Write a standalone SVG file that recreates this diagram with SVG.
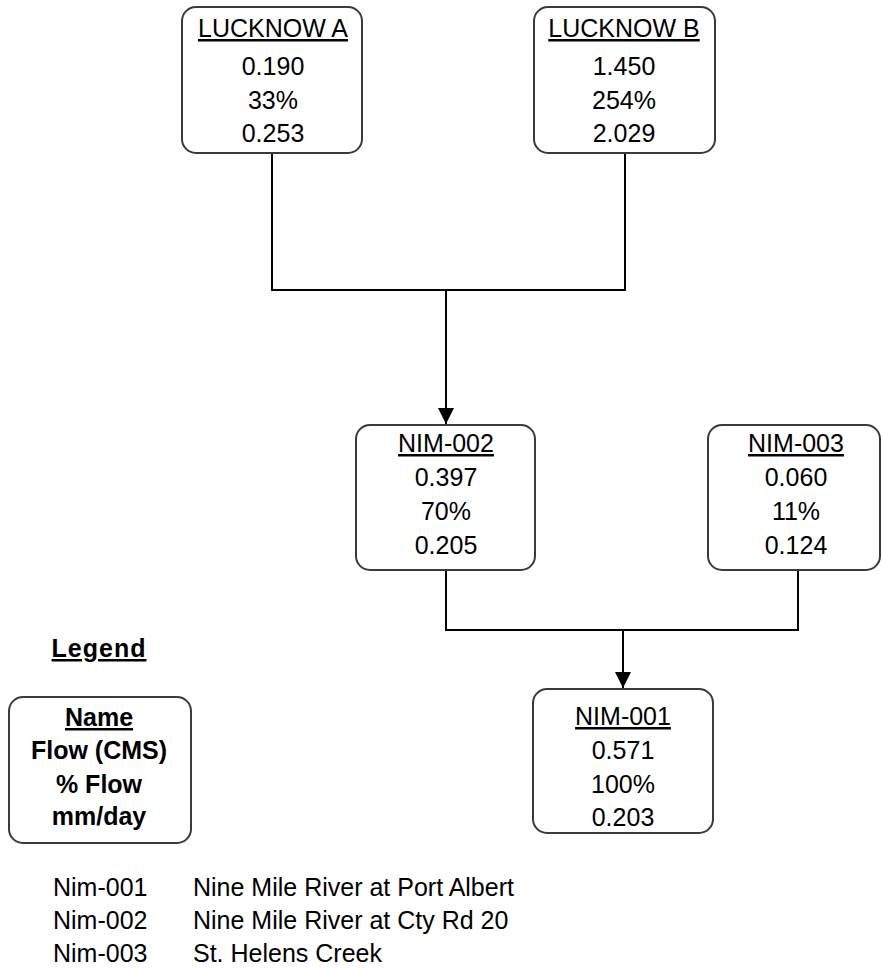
<svg xmlns="http://www.w3.org/2000/svg" width="882" height="968" viewBox="0 0 882 968">
<style>
.box{fill:#fff;stroke:#3a3a3a;stroke-width:2}
.t{font-family:"Liberation Sans",Arial,sans-serif;font-size:25px;fill:#000;text-anchor:middle}
.ttl{text-decoration:underline}
.b{font-weight:bold}
.l{font-family:"Liberation Sans",Arial,sans-serif;font-size:25px;fill:#000}
.c{fill:none;stroke:#000;stroke-width:2}
</style>
<defs>
<marker id="arr" markerUnits="userSpaceOnUse" markerWidth="18" markerHeight="17" refX="16" refY="8" orient="auto">
<path d="M0,0 L16,8 L0,16 Z" fill="#000"/>
</marker>
</defs>
<rect width="882" height="968" fill="#fff"/>
<g id="connectors">
<path class="c" d="M272,153 V290 H625 V153"/>
<path class="c" d="M446,290 V424" marker-end="url(#arr)"/>
<path class="c" d="M446,570 V630 H798 V570"/>
<path class="c" d="M623,630 V688" marker-end="url(#arr)"/>
</g>
<g id="lucknow-a">
<rect class="box" x="182" y="7" width="180" height="146" rx="14"/>
<text class="t ttl" x="273" y="37">LUCKNOW A</text>
<text class="t" x="273" y="75">0.190</text>
<text class="t" x="273" y="109">33%</text>
<text class="t" x="273" y="142">0.253</text>
</g>
<g id="lucknow-b">
<rect class="box" x="534" y="7" width="181" height="146" rx="14"/>
<text class="t ttl" x="624" y="37">LUCKNOW B</text>
<text class="t" x="624" y="75">1.450</text>
<text class="t" x="624" y="109">254%</text>
<text class="t" x="624" y="142">2.029</text>
</g>
<g id="nim-002">
<rect class="box" x="356" y="425" width="179" height="145" rx="14"/>
<text class="t ttl" x="446" y="452">NIM-002</text>
<text class="t" x="446" y="486">0.397</text>
<text class="t" x="446" y="520">70%</text>
<text class="t" x="446" y="554">0.205</text>
</g>
<g id="nim-003">
<rect class="box" x="708" y="425" width="172" height="145" rx="14"/>
<text class="t ttl" x="796" y="452">NIM-003</text>
<text class="t" x="796" y="486">0.060</text>
<text class="t" x="796" y="520">11%</text>
<text class="t" x="796" y="554">0.124</text>
</g>
<g id="nim-001">
<rect class="box" x="533" y="689" width="180" height="144" rx="14"/>
<text class="t ttl" x="623" y="725">NIM-001</text>
<text class="t" x="623" y="759">0.571</text>
<text class="t" x="623" y="793">100%</text>
<text class="t" x="623" y="826">0.203</text>
</g>
<g id="legend">
<text class="t b ttl" x="99" y="657" letter-spacing="1">Legend</text>
<rect class="box" x="9" y="697" width="182" height="146" rx="14"/>
<text class="t b ttl" x="99" y="726">Name</text>
<text class="t b" x="99" y="759">Flow (CMS)</text>
<text class="t b" x="99" y="793">% Flow</text>
<text class="t b" x="99" y="825">mm/day</text>
</g>
<g id="legend-list">
<text class="l" x="53" y="896">Nim-001</text>
<text class="l" x="193" y="896">Nine Mile River at Port Albert</text>
<text class="l" x="53" y="929">Nim-002</text>
<text class="l" x="193" y="929">Nine Mile River at Cty Rd 20</text>
<text class="l" x="53" y="962">Nim-003</text>
<text class="l" x="193" y="962">St. Helens Creek</text>
</g>
</svg>
